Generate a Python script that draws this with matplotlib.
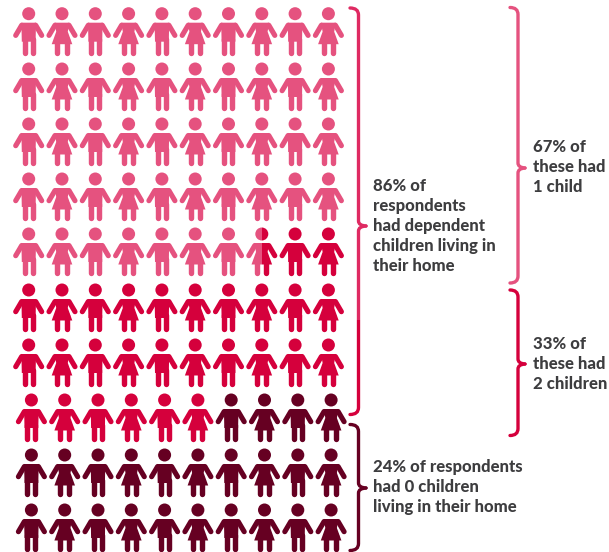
import matplotlib
matplotlib.use("Agg")
import matplotlib.pyplot as plt
from matplotlib.patches import Circle, Polygon, Rectangle, PathPatch
from matplotlib.path import Path

PINK = "#e5527f"
RED = "#d5003c"
DARK = "#660022"
BRACE_PINK = "#df2a62"
TEXT = "#3d3d3f"

# one entry per person icon, filled row by row
group_names = ["one child", "two children", "no children"]
group_counts = [47.5, 28.5, 24]
group_colors = [PINK, RED, DARK]
genders = ["m", "f"]

n_cols = 10
n_rows = 10
col_x = [28.7 + 33.3 * i for i in range(n_cols)]
row_y = [13.7, 69, 124, 179, 234, 290, 345, 400, 455, 510]
# the last three rows sit slightly further right
row_shift = [0, 0, 0, 0, 0, 0, 0, 2.7, 2.7, 2.7]

left_labels = [
    ("86% of\nrespondents\nhad dependent\nchildren living in\ntheir home", 373, 226),
    ("24% of respondents\nhad 0 children\nliving in their home", 373, 487),
]
right_labels = [
    ("67% of\nthese had\n1 child", 533, 167),
    ("33% of\nthese had\n2 children", 533, 364),
]

fig = plt.figure(figsize=(6.09, 5.52), dpi=100)
ax = fig.add_axes([0, 0, 1, 1])
ax.set_xlim(0, 609)
ax.set_ylim(552, 0)
ax.axis("off")


def draw_person(cx, cy, gender, color, clip=None):
    parts = [Circle((cx, cy), 6.5, fc=color, ec="none")]
    if gender == "m":
        outline = [(cx - 7.3, cy + 9), (cx + 7.3, cy + 9), (cx + 6.9, cy + 28), (cx - 6.9, cy + 28)]
        leg_x = 4
    else:
        outline = [(cx - 7.3, cy + 9), (cx + 7.3, cy + 9), (cx + 5.8, cy + 18),
                   (cx + 10.3, cy + 30.5), (cx - 10.3, cy + 30.5), (cx - 5.8, cy + 18)]
        leg_x = 4.6
    parts.append(Polygon(outline, fc=color, ec="none"))
    for patch in parts:
        ax.add_patch(patch)
        if clip is not None:
            patch.set_clip_path(clip)

    lines = []
    for side in (-1, 1):
        # arm, then leg
        lines += ax.plot([cx + side * 7, cx + side * 13], [cy + 11.5, cy + 21.7],
                         color=color, lw=3.7, solid_capstyle="round")
        lines += ax.plot([cx + side * leg_x, cx + side * leg_x], [cy + 25, cy + 38.8],
                         color=color, lw=3.9, solid_capstyle="round")
    for line in lines:
        if clip is not None:
            line.set_clip_path(clip)


def draw_brace(x0, xs, xt, top, tip, bottom, color, lw=2.4, split=None, color2=None):
    # curly brace opening left, tip pointing right at y=tip
    r = 7
    upper = [(x0, top), (xs, top), (xs, top + r), (xs, tip - 5), (xs, tip - 0.5), (xt, tip)]
    lower = [(xt, tip), (xs, tip + 0.5), (xs, tip + 5), (xs, bottom - r), (xs, bottom), (x0, bottom)]
    codes = [Path.MOVETO, Path.CURVE3, Path.CURVE3, Path.LINETO, Path.CURVE3, Path.CURVE3]
    for pts in (upper, lower):
        patch = PathPatch(Path(pts, codes), fc="none", ec=color, lw=lw, capstyle="round")
        ax.add_patch(patch)
        if split is not None:
            patch.set_clip_path(Rectangle((0, 0), 609, split, transform=ax.transData))
            low = PathPatch(Path(pts, codes), fc="none", ec=color2, lw=lw, capstyle="round")
            ax.add_patch(low)
            low.set_clip_path(Rectangle((0, split), 609, 552 - split, transform=ax.transData))


# walk the grid and colour icons from the group counts
edges = []
total = 0
for c in group_counts:
    total += c
    edges.append(total)

for i in range(n_rows * n_cols):
    row, col = divmod(i, n_cols)
    cx = col_x[col] + row_shift[row]
    cy = row_y[row]
    gender = genders[col % 2]
    group = next(k for k, e in enumerate(edges) if i < e)
    if i + 1 > edges[group] and group + 1 < len(edges):
        # icon shared between two groups, split down the middle
        left = Rectangle((cx - 20, cy - 10), 20, 60, transform=ax.transData)
        right = Rectangle((cx, cy - 10), 20, 60, transform=ax.transData)
        draw_person(cx, cy, gender, group_colors[group], clip=left)
        draw_person(cx, cy, gender, group_colors[group + 1], clip=right)
    else:
        draw_person(cx, cy, gender, group_colors[group])

draw_brace(350, 358.5, 366, 8, 226, 414.5, BRACE_PINK, split=320, color2=RED)
draw_brace(350, 358.5, 366, 424.5, 488, 550.5, DARK)
draw_brace(510, 518, 525, 7.5, 168, 283, PINK)
draw_brace(510, 518, 525, 290, 364, 435.5, RED)

for text, x, y in left_labels + right_labels:
    ax.text(x, y, text, ha="left", va="center", color=TEXT, fontsize=12, fontweight=900,
            family="Lato", linespacing=1.32)

fig.savefig("out.png", dpi=100)
